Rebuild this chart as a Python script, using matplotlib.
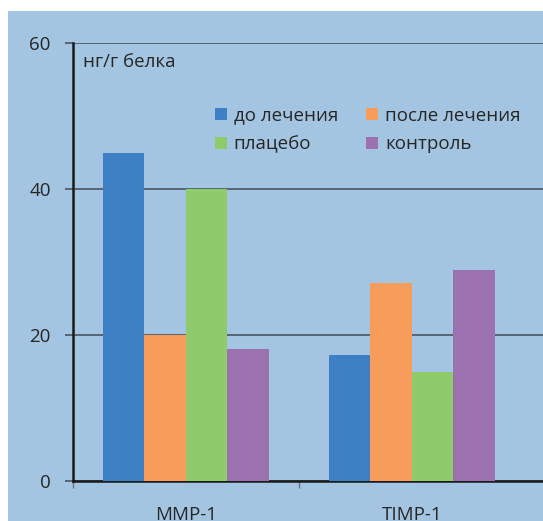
import matplotlib
matplotlib.use("Agg")
import matplotlib.pyplot as plt
import numpy as np
from matplotlib.patches import Rectangle

categories = ["MMP-1", "TIMP-1"]
series_names = ["до лечения", "после лечения", "плацебо", "контроль"]
before = [45, 17.3]
after = [20, 27.1]
placebo = [40, 15]
control = [18.1, 28.9]
y_ticks = [0, 20, 40, 60]
unit_label = "нг/г белка"

colors = ["#3d81c4", "#f79c5a", "#8fca6b", "#9c71b0"]
bg = "#a3c5e1"

plt.rcParams["font.family"] = ["Open Sans", "DejaVu Sans"]

fig = plt.figure(figsize=(5.43, 5.21), dpi=100)
fig.patch.set_facecolor("white")
fig.add_artist(Rectangle((8 / 543, 0), 1, 1 - 11 / 521, transform=fig.transFigure,
                         facecolor=bg, edgecolor="none", zorder=0))

ax = fig.add_axes([73 / 543, 40 / 521, 1 - 73 / 543, 438 / 521])
ax.set_facecolor(bg)

x = np.arange(len(categories))
width = 0.1836
offsets = [-1.5 * width, -0.5 * width, 0.5 * width, 1.5 * width]
bars = []
for vals, name, col, off in zip([before, after, placebo, control], series_names, colors, offsets):
    bars.append(ax.bar(x + off, vals, width, color=col, label=name, zorder=3, linewidth=0))

ax.set_xlim(-0.5, 1.58)
ax.set_ylim(0, 60)
ax.set_yticks(y_ticks)
ax.yaxis.grid(True, color="#4a5560", linewidth=1.2, zorder=1)
ax.set_axisbelow(True)

ax.set_xticks(x)
ax.set_xticklabels(categories)
ax.set_xticks([-0.5, 0.5], minor=True)
ax.tick_params(axis="x", which="major", length=0, pad=18, labelsize=13.5, labelcolor="#262626")
ax.tick_params(axis="x", which="minor", length=5, color="#6b7580", width=1)
ax.tick_params(axis="y", length=6, color="#4a5560", width=1.2, pad=10, labelsize=13.5,
               labelcolor="#262626")

for s in ["top", "right"]:
    ax.spines[s].set_visible(False)
ax.spines["left"].set_linewidth(1.8)
ax.spines["left"].set_color("#1a1a1a")
ax.spines["bottom"].set_linewidth(1.8)
ax.spines["bottom"].set_color("#1a1a1a")

ax.text(10 / 470, (481 - 62) / 438, unit_label, transform=ax.transAxes,
        ha="left", va="center", fontsize=13.5, color="#262626")

# matplotlib fills legend columns first; reorder so rows read as in the original
order = [0, 2, 1, 3]
ax.legend([bars[i] for i in order], [series_names[i] for i in order],
          ncol=2, loc="upper left", bbox_to_anchor=(0.302, 0.855), frameon=False,
          fontsize=13.5, handlelength=0.65, handleheight=0.65, handletextpad=0.35,
          columnspacing=1.5, labelspacing=0.58, borderpad=0, borderaxespad=0,
          labelcolor="#262626")

fig.savefig("out.png", dpi=100)
